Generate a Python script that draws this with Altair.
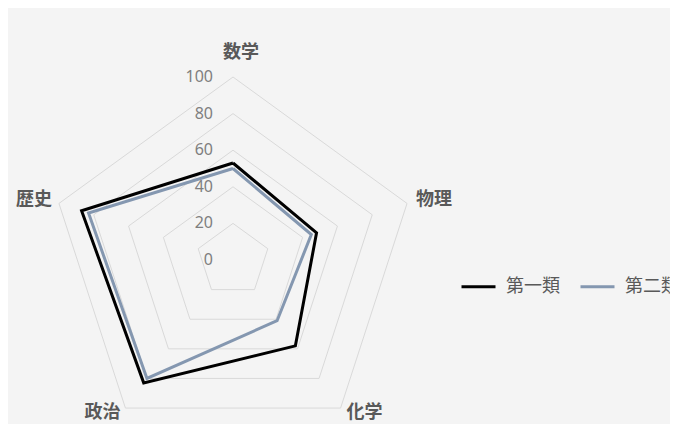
import altair as alt
import pandas as pd

categories = ["数学", "物理", "化学", "政治", "歴史"]
series_names = ["第一類", "第二類"]
values_1 = [53, 48, 58, 83, 87]
values_2 = [50, 45, 41, 80, 83]
ring_levels = [20, 40, 60, 80, 100]
tick_labels = [0, 20, 40, 60, 80, 100]
axis_max = 100

n = len(categories)

rows = []
for name, vals in zip(series_names, [values_1, values_2]):
    for k in range(n + 1):
        rows.append({"series": name, "order": k, "idx": k % n,
                     "value": vals[k % n], "category": categories[k % n]})
series_df = pd.DataFrame(rows)

ring_df = pd.DataFrame([{"level": lv, "order": k, "idx": k % n, "value": lv}
                        for lv in ring_levels for k in range(n + 1)])
label_df = pd.DataFrame({"category": categories, "idx": list(range(n)),
                         "value": [axis_max] * n})
tick_df = pd.DataFrame({"tick": tick_labels})

FONT_CJK = "Noto Sans CJK JP"
W, H = 662, 416
PX_PER_UNIT = 1.83
CX, CY = 225, 252
xs = alt.Scale(domain=[-CX / PX_PER_UNIT, (W - CX) / PX_PER_UNIT], nice=False, zero=False)
ys = alt.Scale(domain=[-(H - CY) / PX_PER_UNIT, CY / PX_PER_UNIT], nice=False, zero=False)


def polar(ch):
    return ch.transform_calculate(
        ang=f"datum.idx * 2 * PI / {n}",
    ).transform_calculate(
        px="datum.value * sin(datum.ang)",
        py="datum.value * cos(datum.ang)",
    )


X = alt.X("px:Q", scale=xs, axis=None)
Y = alt.Y("py:Q", scale=ys, axis=None)

rings = polar(alt.Chart(ring_df)).mark_line(
    stroke="#d9d9d9", strokeWidth=1
).encode(x=X, y=Y, detail="level:N", order="order:Q")

lines = polar(alt.Chart(series_df)).mark_line(
    strokeWidth=3, strokeJoin="miter"
).encode(
    x=X, y=Y, order="order:Q",
    color=alt.Color(
        "series:N",
        scale=alt.Scale(domain=series_names, range=["#000000", "#8497b0"]),
        legend=alt.Legend(
            title=None, orient="none", legendX=452, legendY=260,
            direction="horizontal", symbolType="stroke",
            symbolStrokeWidth=3, symbolSize=1156,
            labelFontSize=18, labelFont=FONT_CJK, labelColor="#595959",
            labelOffset=9, columnPadding=14,
        ),
    ),
)

ticks = alt.Chart(tick_df).mark_text(
    align="right", baseline="middle", dx=-20, fontSize=16,
    font="Noto Sans", color="#7f7f7f"
).encode(
    x=alt.X("zero:Q", scale=xs, axis=None),
    y=alt.Y("tick:Q", scale=ys, axis=None),
    text="tick:Q",
).transform_calculate(zero="0")

label_style = {
    "数学": dict(align="center", dx=8, dy=-24),
    "物理": dict(align="left", dx=9, dy=-3),
    "化学": dict(align="left", dx=6, dy=5),
    "政治": dict(align="right", dx=-5, dy=5),
    "歴史": dict(align="right", dx=-7, dy=-3),
}

label_layers = []
for c in categories:
    st = label_style[c]
    lay = polar(alt.Chart(label_df).transform_filter(alt.datum.category == c)).mark_text(
        baseline="middle", fontSize=18, fontWeight="bold", font=FONT_CJK,
        color="#595959", **st
    ).encode(x=X, y=Y, text="category:N")
    label_layers.append(lay)

chart = alt.layer(rings, lines, ticks, *label_layers).properties(
    width=W, height=H, background="#f4f4f4", padding=0,
    autosize=alt.AutoSizeParams(type="none"),
).configure_view(strokeWidth=0)

chart.save("out.html", embed_options={"renderer": "svg", "actions": False})
